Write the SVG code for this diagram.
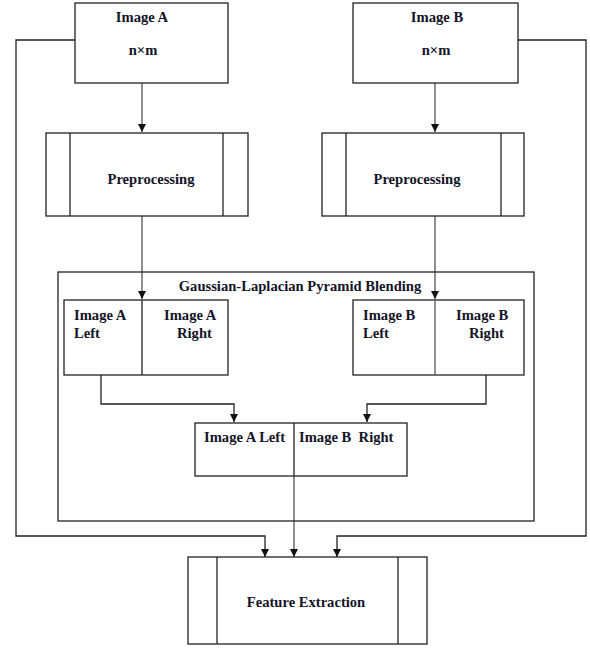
<svg xmlns="http://www.w3.org/2000/svg" width="590" height="648" viewBox="0 0 590 648">
<defs>
<marker id="ah" viewBox="0 0 10 10" refX="10" refY="5" markerWidth="8" markerHeight="8" orient="auto" markerUnits="userSpaceOnUse">
<path d="M0,0 L10,5 L0,10 z" fill="#111"/>
</marker>
</defs>
<style>
.box{fill:#fff;stroke:#222;stroke-width:1.3}
.ln{fill:none;stroke:#222;stroke-width:1.3}
.gl{fill:none;stroke:#555;stroke-width:1.3}
text{font-family:"Liberation Serif","Times New Roman",serif;font-weight:bold;font-size:14.6px;fill:#141428}
.c{text-anchor:middle}
</style>
<rect width="590" height="648" fill="#fff"/>
<g id="connectors">
<path class="ln" d="M75,40 H16 V536 H265 V557" marker-end="url(#ah)"/>
<path class="ln" d="M518,40 H586 V536 H337 V557" marker-end="url(#ah)"/>
<path class="gl" d="M142,83 V132" marker-end="url(#ah)"/>
<path class="gl" d="M435,83 V132" marker-end="url(#ah)"/>
<path class="gl" d="M142,216 V299" marker-end="url(#ah)"/>
<path class="gl" d="M435,216 V299" marker-end="url(#ah)"/>
<path class="ln" d="M101,375 V404 H234 V422" marker-end="url(#ah)"/>
<path class="ln" d="M486,375 V404 H367 V422" marker-end="url(#ah)"/>
<path class="gl" d="M294,476 V557" marker-end="url(#ah)"/>
</g>
<g id="imageA">
<rect class="box" x="75" y="3" width="153" height="80"/>
<text class="c" x="142" y="22">Image A</text>
<text class="c" x="143" y="55">n×m</text>
</g>
<g id="imageB">
<rect class="box" x="353" y="3" width="165" height="80"/>
<text class="c" x="437" y="22">Image B</text>
<text class="c" x="436" y="55">n×m</text>
</g>
<g id="preA">
<rect class="box" x="46" y="133" width="202" height="83"/>
<line class="ln" x1="70" y1="133" x2="70" y2="216"/>
<line class="ln" x1="223" y1="133" x2="223" y2="216"/>
<text class="c" x="151" y="184">Preprocessing</text>
</g>
<g id="preB">
<rect class="box" x="322" y="133" width="202" height="83"/>
<line class="ln" x1="346" y1="133" x2="346" y2="216"/>
<line class="ln" x1="501" y1="133" x2="501" y2="216"/>
<text class="c" x="417" y="184">Preprocessing</text>
</g>
<g id="blending">
<rect class="box" x="58" y="272" width="476" height="249" style="fill:none"/>
<text class="c" x="300" y="291">Gaussian-Laplacian Pyramid Blending</text>
</g>
<g id="imageALR">
<rect class="box" x="64" y="300" width="164" height="75"/>
<line class="ln" x1="142" y1="300" x2="142" y2="375"/>
<text x="74" y="320">Image A</text>
<text x="74" y="338">Left</text>
<text x="164" y="320">Image A</text>
<text x="177" y="338">Right</text>
</g>
<g id="imageBLR">
<rect class="box" x="353" y="300" width="171" height="75"/>
<line class="gl" x1="435" y1="300" x2="435" y2="375"/>
<text x="363" y="320">Image B</text>
<text x="363" y="338">Left</text>
<text x="456" y="320">Image B</text>
<text x="469" y="338">Right</text>
</g>
<g id="combined">
<rect class="box" x="195" y="423" width="212" height="53"/>
<line class="ln" x1="294" y1="423" x2="294" y2="476"/>
<text x="204" y="442">Image A Left</text>
<text x="299" y="442" xml:space="preserve">Image B  Right</text>
</g>
<g id="feature">
<rect class="box" x="188" y="557" width="239" height="87"/>
<line class="ln" x1="217" y1="557" x2="217" y2="644"/>
<line class="ln" x1="398" y1="557" x2="398" y2="644"/>
<text class="c" x="306" y="607">Feature Extraction</text>
</g>
</svg>
